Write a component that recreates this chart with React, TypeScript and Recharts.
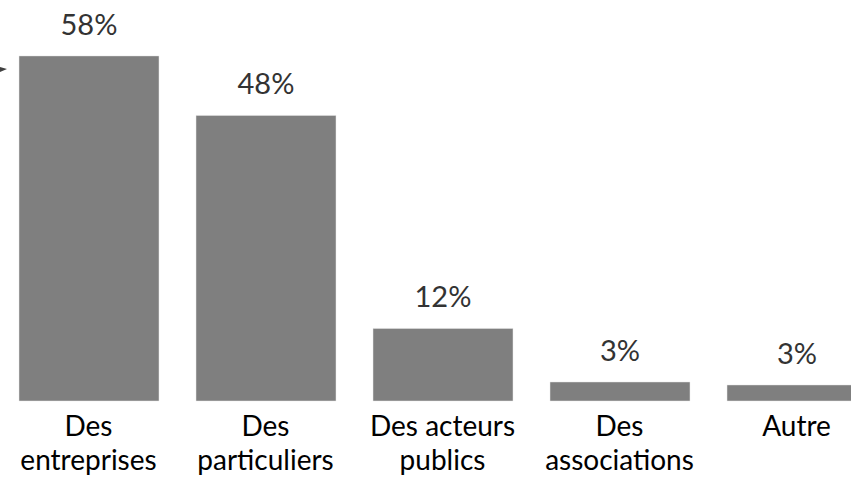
import { Bar, BarChart, LabelList, XAxis, YAxis } from 'recharts';

// catégories (retour à la ligne = "\n")
const categories = [
  'Des\nentreprises',
  'Des\nparticuliers',
  'Des acteurs\npublics',
  'Des\nassociations',
  'Autre'
];
const values = [58, 48, 12.2, 3.2, 2.7];

const data = categories.map((name, i) => ({ name, value: values[i] }));

const FONT = 'Lato, sans-serif';

function CategoryTick(props: any) {
  const { x, y, payload } = props;
  const lines = String(payload.value).split('\n');
  return (
    <text x={x} y={y} textAnchor="middle" fill="#000" fontFamily={FONT} fontSize={28}>
      {lines.map((l, i) => (
        <tspan key={i} x={x} dy={i === 0 ? 23 : 34}>
          {l}
        </tspan>
      ))}
    </text>
  );
}

export default function App() {
  return (
    <div style={{ position: 'absolute', left: 0, top: 0, width: 851, height: 477, overflow: 'hidden', background: '#fff' }}>
      <BarChart
        width={885}
        height={477}
        data={data}
        margin={{ top: 44, right: 0, left: 0, bottom: 0 }}
        barSize={140}
      >
        <XAxis
          dataKey="name"
          height={76}
          axisLine={false}
          tickLine={false}
          interval={0}
          tick={<CategoryTick />}
          tickMargin={6}
        />
        <YAxis hide domain={[0, 60]} />
        <Bar dataKey="value" fill="#7f7f7f" stroke="#e8e8e8" strokeWidth={0.5} isAnimationActive={false}>
          <LabelList
            dataKey="value"
            position="top"
            offset={21}
            formatter={(v: any) => `${Math.round(Number(v))}%`}
            fill="#333"
            fontFamily={FONT}
            fontSize={29}
          />
        </Bar>
      </BarChart>
      <svg width={10} height={10} style={{ position: 'absolute', left: 0, top: 64 }}>
        <polygon points="0,3 7,5 0,8" fill="#404040" />
      </svg>
    </div>
  );
}
